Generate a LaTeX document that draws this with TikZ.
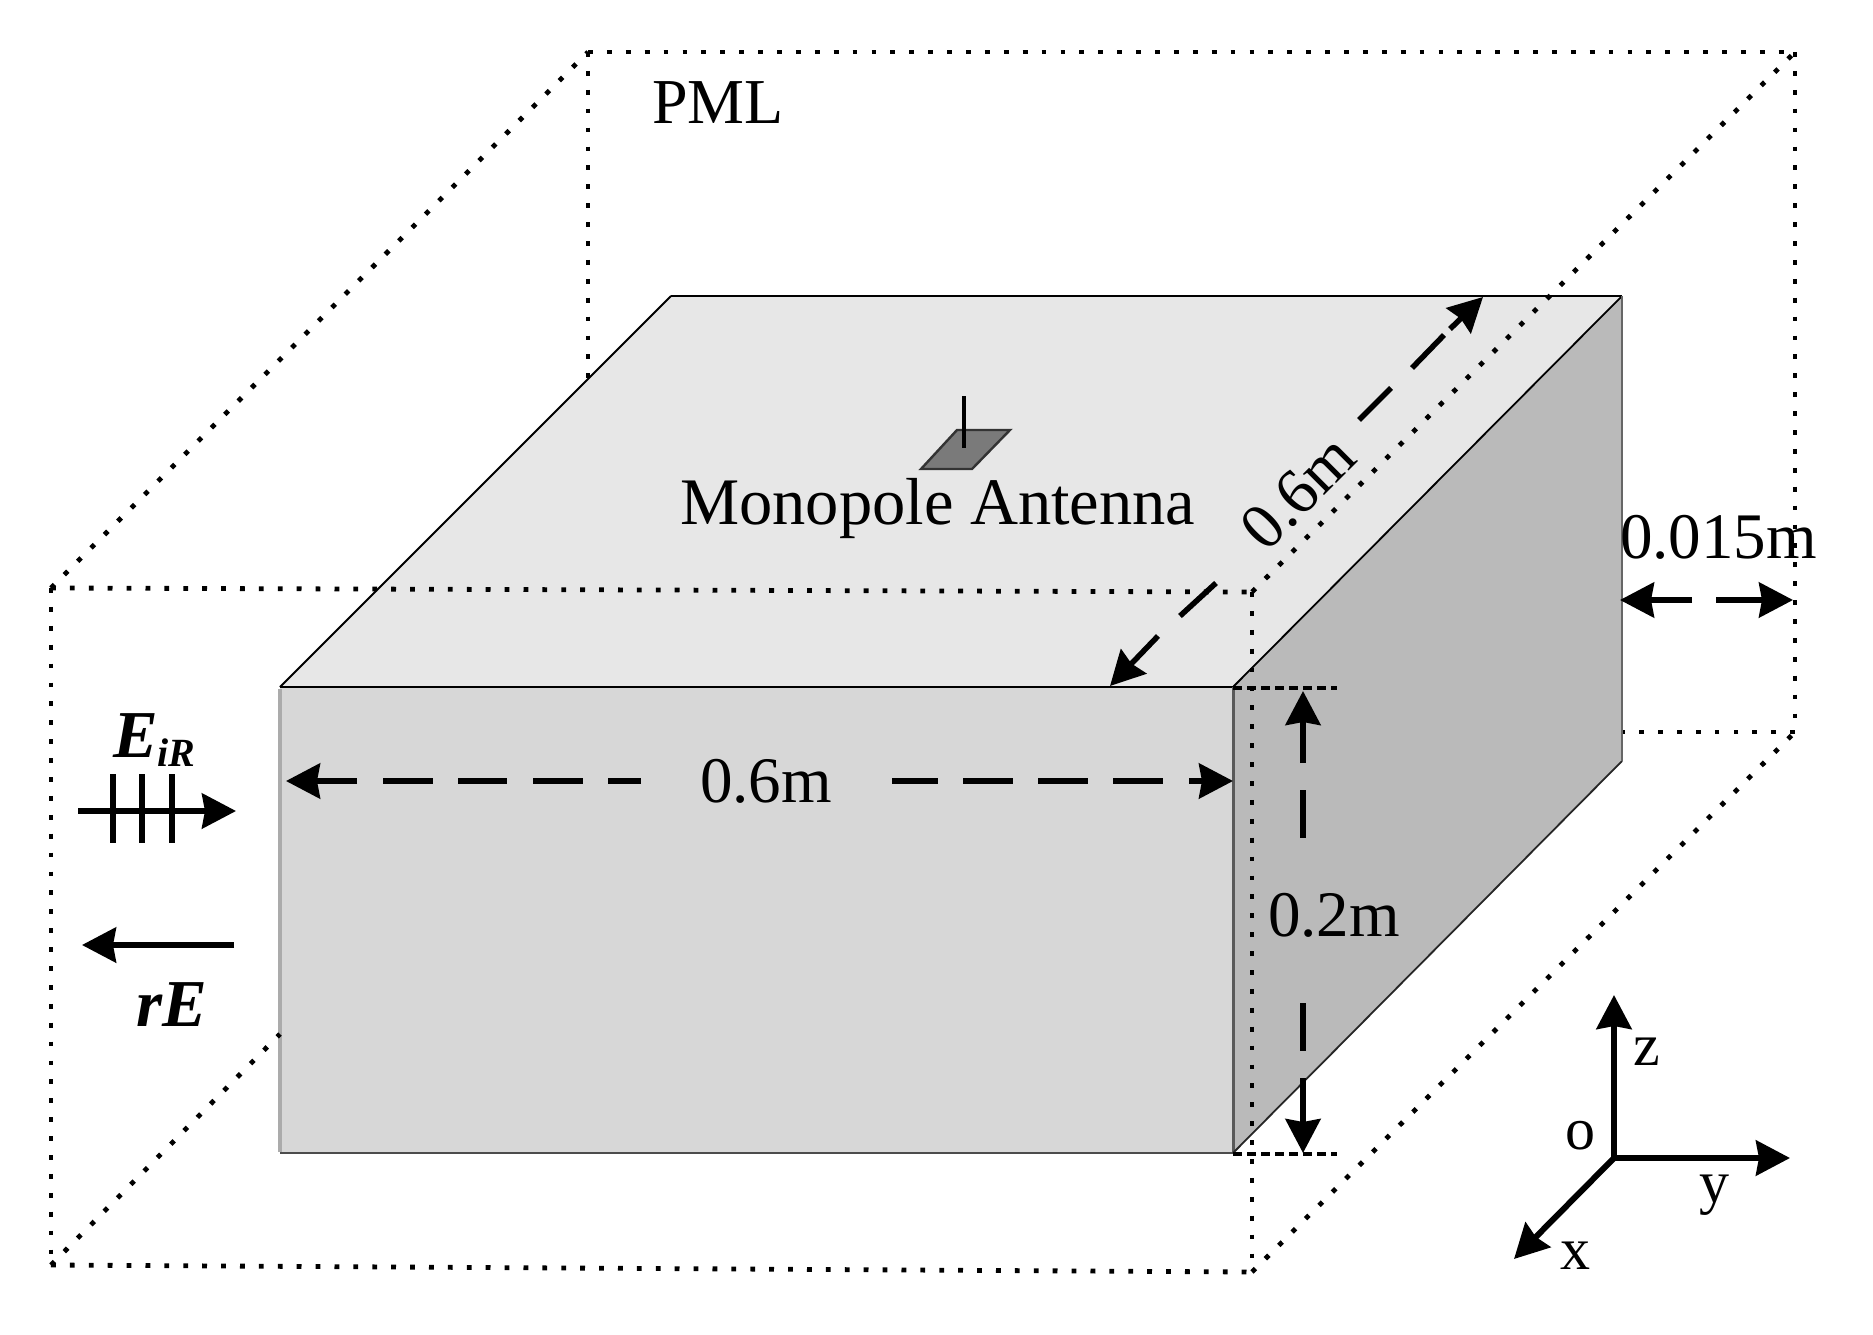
\documentclass[tikz,border=0pt]{standalone}
\usepackage{fontspec}
\setmainfont{Liberation Serif}
\usetikzlibrary{arrows.meta}
\tikzset{
  pml/.style={line width=4.8pt,black,dash pattern=on 4.8pt off 14.1pt},
  edge/.style={draw=black,line width=2.4pt,line join=miter},
  arr/.style={line width=5.5pt,black},
  headed/.style={arr,-{Stealth[inset=3pt,length=34pt,width=35pt]}},
  lab/.style={inner sep=0pt,anchor=base west,font=\fontsize{65}{70}\selectfont},
  axl/.style={inner sep=0pt,font=\fontsize{60}{64}\selectfont},
  emph/.style={inner sep=0pt,anchor=base west,font=\fontsize{67}{70}\selectfont\bfseries\itshape},
}
\begin{document}
\begin{tikzpicture}[x=1pt,y=-1pt]
\fill[white] (0,0) rectangle (1873,1335);
\useasboundingbox (0,0) rectangle (1873,1335);
% PML corners
\coordinate (ftl) at (51,588);
\coordinate (ftr) at (1252,592);
\coordinate (fbl) at (51,1265);
\coordinate (fbr) at (1252,1272);
\coordinate (btl) at (588,52);
\coordinate (btr) at (1795,52);
\coordinate (bbr) at (1795,732);
% box corners
\coordinate (a) at (280,687);
\coordinate (b) at (1233,687);
\coordinate (c) at (1233,1153);
\coordinate (d) at (280,1153);
\coordinate (e) at (671,296);
\coordinate (f) at (1622,296);
\coordinate (g) at (1622,761);
% back PML lines
\draw[pml] (btl) -- (btr);
\draw[pml] (btr) -- (bbr);
\draw[pml] (btl) -- (588,382);
\draw[pml] (ftl) -- (btl);
\draw[pml] (bbr) -- (1622,732);
% box
\fill[black!9.5] (a) -- (e) -- (f) -- (b) -- cycle;
\fill[black!15.5] (a) -- (b) -- (c) -- (d) -- cycle;
\fill[black!27] (b) -- (f) -- (g) -- (c) -- cycle;
\draw[edge,line width=1.8pt] (a) -- (e);
\draw[edge] (e) -- (f);
\draw[edge,line width=1.8pt] (f) -- (b);
\draw[edge] (a) -- (b);
\draw[edge,black!65,line width=3pt] (b) -- (c);
\draw[edge,black!70] (d) -- (c);
\draw[edge,line width=1.8pt,black!85] (c) -- (g);
\draw[edge,black!60,line width=2.6pt] (g) -- (f);
\draw[line width=4pt,black!33] (280,689) -- (280,1152);
% front PML lines
\draw[pml] (ftl) -- (ftr);
\draw[pml] (ftl) -- (fbl);
\draw[pml] (fbl) -- (fbr);
\draw[pml] (ftr) -- (fbr);
\draw[pml] (ftr) -- (btr);
\draw[pml] (fbr) -- (bbr);
\draw[pml] (fbl) -- (280,1034);
% antenna
\filldraw[fill=black!52,draw=black!80,line width=2.4pt] (921,469) -- (972,469) -- (1010,430) -- (957,430) -- cycle;
\draw[line width=3.6pt] (964,396) -- (964,448);
\node[lab,font=\fontsize{66.5}{70}\selectfont] (mono) at (680,524) {Monopole Antenna};
\node[lab,font=\fontsize{64}{70}\selectfont] (pmllabel) at (652,124) {PML};
% 0.6m width
\draw[headed] (357,781) -- (286,781);
\foreach \p/\q in {383/433,458/507,533/583,608/641,892/938,963/1013,1038/1088,1113/1163}
  \draw[arr] (\p,781) -- (\q,781);
\draw[headed] (1189,781) -- (1233,781);
\node[lab] (w) at (700,802) {0.6m};
% 0.6m depth
\draw[headed] (1158,636) -- (1110,686);
\draw[arr] (1180,616) -- (1216,583);
\draw[arr] (1359,420) -- (1391,388);
\draw[arr] (1412,368) -- (1444,335);
\draw[headed] (1450,329) -- (1483,297);
\node[inner sep=0pt,rotate=45,font=\fontsize{65}{70}\selectfont] (depth) at (1298,492) {0.6m};
% 0.2m height
\draw[line width=4.8pt,dash pattern=on 9pt off 5pt] (1233,688) -- (1337,688);
\draw[line width=4.8pt,dash pattern=on 9pt off 5pt] (1233,1154) -- (1337,1154);
\draw[headed] (1303,763) -- (1303,691);
\draw[arr] (1303,790) -- (1303,838);
\draw[arr] (1303,1003) -- (1303,1051);
\draw[headed] (1303,1078) -- (1303,1153);
\node[lab] (h) at (1268,936) {0.2m};
% 0.015m
\draw[headed] (1692,600) -- (1620,600);
\draw[headed] (1716,600) -- (1793,600);
\node[lab] (t) at (1620,558) {0.015m};
% incident / reflected
\draw[headed] (78,811) -- (236,811);
\foreach \x in {113,142,172} \draw[line width=6pt] (\x,774) -- (\x,843);
\draw[headed] (234,945) -- (82,945);
\node[emph] (ei) at (113,757) {E};
\node[emph,font=\fontsize{40}{44}\selectfont\bfseries\itshape] (sub) at (157,766) {iR};
\node[emph] (re) at (136,1026) {rE};
% axes
\coordinate (o) at (1614,1158);
\draw[headed,line width=6pt] (o) -- (1614,995);
\draw[headed,line width=6pt] (o) -- (1790,1158);
\draw[headed,line width=6pt] (o) -- (1514,1259);
\node[axl] (zl) at (1647,1052) {z};
\node[axl] (ol) at (1580,1136) {o};
\node[axl] (yl) at (1714,1195) {y};
\node[axl] (xl) at (1575,1256) {x};
\end{tikzpicture}
\end{document}
